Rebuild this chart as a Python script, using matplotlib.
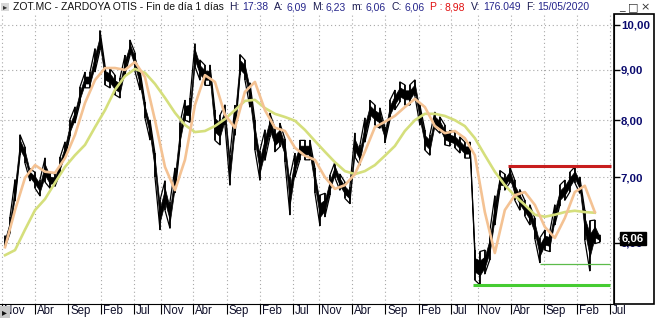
import matplotlib
matplotlib.use('Agg')
import matplotlib.pyplot as plt
import matplotlib.dates as mdates
import matplotlib.transforms as mtransforms
from matplotlib.patches import Rectangle
from matplotlib.ticker import NullLocator, FixedLocator
import pandas as pd

# --- datos (ZOT.MC, cierres aprox. cada ~18 dias) ---
cierres = [6.02, 6.26, 6.79, 7.55, 7.37, 7.04, 6.95, 6.83, 7.12, 6.95,
           6.95, 7.20, 7.46, 7.86, 8.10, 8.49, 8.79, 8.79, 9.21, 9.65,
           8.89, 8.83, 8.69, 8.63, 9.11, 9.48, 9.17, 8.79, 8.19, 7.82,
           7.20, 6.41, 6.71, 6.41, 6.95, 7.73, 8.19, 8.19, 9.32, 9.00,
           8.89, 8.89, 7.91, 7.82, 8.10, 7.12, 8.00, 9.11, 9.00, 8.49,
           7.73, 7.20, 7.55, 7.91, 7.64, 7.73, 7.46, 6.71, 7.20, 7.46,
           7.46, 7.46, 6.95, 6.48, 6.56, 6.87, 7.12, 6.92, 6.79, 6.71,
           7.55, 7.37, 7.82, 8.19, 8.10, 8.04, 7.73, 8.19, 8.39, 8.55,
           8.49, 8.49, 8.63, 8.10, 7.64, 7.55, 8.00, 7.91, 7.73, 7.67,
           7.64, 7.55, 7.46, 7.46, 5.70, 5.66, 5.74, 5.97, 6.48, 6.95,
           6.92, 7.04, 6.79, 6.64, 6.51, 6.41, 6.21, 5.90, 6.04, 6.02,
           6.41, 6.71, 6.79, 6.92, 7.04, 6.87, 6.26, 5.97, 6.16, 6.06]

# medio rango maximo-minimo alrededor del cierre
rango = [0.08, 0.12, 0.17, 0.18, 0.14, 0.10, 0.13, 0.13, 0.20, 0.13,
         0.10, 0.13, 0.14, 0.15, 0.15, 0.16, 0.16, 0.16, 0.25, 0.22,
         0.20, 0.20, 0.20, 0.20, 0.20, 0.17, 0.20, 0.20, 0.15, 0.18,
         0.20, 0.22, 0.23, 0.20, 0.20, 0.22, 0.19, 0.23, 0.25, 0.21,
         0.21, 0.21, 0.28, 0.27, 0.19, 0.25, 0.28, 0.22, 0.21, 0.24,
         0.27, 0.25, 0.27, 0.22, 0.21, 0.21, 0.20, 0.30, 0.20, 0.17,
         0.17, 0.17, 0.20, 0.23, 0.18, 0.16, 0.13, 0.13, 0.13, 0.13,
         0.21, 0.17, 0.22, 0.19, 0.19, 0.19, 0.14, 0.19, 0.19, 0.20,
         0.20, 0.20, 0.16, 0.19, 0.18, 0.18, 0.15, 0.15, 0.18, 0.14,
         0.14, 0.14, 0.14, 0.14, 0.20, 0.22, 0.16, 0.20, 0.22, 0.16,
         0.13, 0.13, 0.16, 0.16, 0.12, 0.15, 0.15, 0.17, 0.14, 0.14,
         0.15, 0.16, 0.16, 0.16, 0.13, 0.13, 0.22, 0.35, 0.17, 0.05]

media_corta = [5.94, 6.48, 6.99, 7.20, 7.09, 7.07, 7.32, 7.73, 8.33, 8.79,
               9.04, 9.04, 9.00, 9.17, 8.85, 8.00, 7.17, 6.79, 7.29, 8.29,
               8.89, 8.75, 8.10, 7.86, 8.55, 8.75, 8.19, 7.86, 7.80, 7.50,
               7.36, 7.29, 7.00, 6.81, 6.87, 7.05, 7.43, 7.87, 7.97, 8.08,
               8.25, 8.41, 8.25, 7.89, 7.76, 7.80, 7.67, 7.37, 6.45, 5.86,
               6.48, 6.71, 6.76, 6.56, 6.23, 6.07, 6.36, 6.76, 6.86, 6.45]

media_larga = [5.83, 5.90, 6.19, 6.48, 6.65, 6.91, 7.17, 7.37, 7.55, 7.87,
               8.19, 8.59, 8.87, 9.02, 8.94, 8.71, 8.43, 8.14, 7.91, 7.78,
               7.80, 7.89, 8.02, 8.19, 8.37, 8.39, 8.23, 8.12, 8.06, 7.99,
               7.82, 7.62, 7.43, 7.25, 7.10, 7.05, 7.10, 7.20, 7.36, 7.53,
               7.80, 8.00, 8.12, 8.12, 8.08, 8.00, 7.89, 7.67, 7.37, 7.09,
               6.87, 6.70, 6.56, 6.41, 6.38, 6.41, 6.45, 6.47, 6.45, 6.44]

# lineas horizontales: (precio, desde, hasta)
resistencia = (7.19, '2019-03-18', '2020-07-05')
soporte = (5.44, '2018-10-09', '2020-07-01')
soporte2 = (5.71, '2019-08-14', '2020-07-01')

meses_ticks = ['2012-11', '2013-04', '2013-09', '2014-02', '2014-07',
               '2014-11', '2015-04', '2015-09', '2016-02', '2016-07',
               '2016-11', '2017-04', '2017-09', '2018-02', '2018-07',
               '2018-11', '2019-04', '2019-09', '2020-02', '2020-07']
nombres_mes = {1: 'Ene', 2: 'Feb', 3: 'Mar', 4: 'Abr', 5: 'May', 6: 'Jun',
               7: 'Jul', 8: 'Ago', 9: 'Sep', 10: 'Oct', 11: 'Nov', 12: 'Dic'}
niveles_y = [6, 7, 8, 9, 10]

cabecera = [('ZOT.MC - ZARDOYA OTIS - Fin de día 1 días', 'k'),
            ('H:', 'L'), ('17:38', 'V'), ('A:', 'L'), ('6,09', 'V'),
            ('M:', 'L'), ('6,23', 'V'), ('m:', 'L'), ('6,06', 'V'),
            ('C:', 'L'), ('6,06', 'V'), ('P :', 'R'), ('8,98', 'R'),
            ('V:', 'L'), ('176.049', 'V'), ('F:', 'L'), ('15/05/2020', 'V')]
ultimo = 6.06

fechas = pd.date_range('2012-11-15', '2020-05-15', periods=len(cierres))
fechas_media = fechas[::2]

W, H = 655, 321
fig = plt.figure(figsize=(W / 100, H / 100), dpi=100)
fig.patch.set_facecolor('white')
ax = fig.add_axes([0, (H - 304) / H, 614 / W, 290 / H])

# escala x: nov-2012 en x=2px, jul-2020 en x=610px
d0 = mdates.date2num(pd.Timestamp('2012-11-01'))
d1 = mdates.date2num(pd.Timestamp('2020-07-01'))
dpp = (d1 - d0) / 608.0
ax.set_xlim(d0 - 2 * dpp, d1 + 4 * dpp)
ax.set_yscale('log')
ax.set_ylim(5.20, 10.26)

gris = '#a8a8a8'
ticks_x = [pd.Timestamp(m + '-01') for m in meses_ticks]
for t in ticks_x:
    ax.axvline(t, color=gris, lw=0.8, ls=(0, (1, 2.5)), zorder=0)
for n in niveles_y:
    ax.axhline(n, color=gris, lw=0.8, ls=(0, (1, 2.5)), zorder=0)

# barras: nucleo relleno + zigzag maximo/minimo
altos = [c + r for c, r in zip(cierres, rango)]
bajos = [c - r for c, r in zip(cierres, rango)]
ax.fill_between(fechas, [c - 0.45 * r for c, r in zip(cierres, rango)],
                [c + 0.45 * r for c, r in zip(cierres, rango)],
                color='black', lw=0.5, zorder=2)
zx, zy = [], []
for i, f in enumerate(fechas):
    par = (altos[i], bajos[i]) if i % 2 == 0 else (bajos[i], altos[i])
    zx += [f, f]
    zy += list(par)
ax.plot(zx, zy, color='black', lw=0.9, zorder=2)
ax.vlines(fechas, bajos, altos, color='black', lw=1.2, zorder=2)

ax.plot(fechas_media, media_larga, color='#d5df7c', lw=1.9, zorder=3)
ax.plot(fechas_media, media_corta, color='#f4c293', lw=1.9, zorder=4)

for (p, a, b), col, lw in [(resistencia, '#c81e1e', 2.2),
                           (soporte, '#46cc32', 2.2),
                           (soporte2, '#5cbb4a', 0.9)]:
    ax.plot([pd.Timestamp(a), pd.Timestamp(b)], [p, p], color=col, lw=lw,
            solid_capstyle='butt', zorder=5)

# ejes
for s in ['left', 'top']:
    ax.spines[s].set_visible(False)
ax.spines['bottom'].set_color('black')
ax.spines['right'].set_color('black')
ax.yaxis.tick_right()
ax.yaxis.set_minor_locator(NullLocator())
ax.yaxis.set_major_locator(FixedLocator(niveles_y))
ax.set_yticklabels(['%d,00' % n for n in niveles_y])
ax.tick_params(axis='y', direction='out', length=4, width=1, pad=1,
               labelcolor='#0a0a6e')
for lbl in ax.get_yticklabels():
    lbl.set_fontfamily('Liberation Sans')
    lbl.set_fontweight('bold')
    lbl.set_fontsize(8.2)

ax.xaxis.set_major_locator(FixedLocator(mdates.date2num(ticks_x)))
ax.xaxis.set_minor_locator(NullLocator())
ax.set_xticklabels([nombres_mes[t.month] for t in ticks_x])
ax.tick_params(axis='x', direction='out', length=7, width=0.8, pad=-6,
               labelcolor='#10102a')
despl = mtransforms.ScaledTranslation(2 / 100, 0, fig.dpi_scale_trans)
for lbl in ax.get_xticklabels():
    lbl.set_fontfamily('Liberation Sans')
    lbl.set_fontsize(8.3)
    lbl.set_horizontalalignment('left')
    lbl.set_verticalalignment('top')
    lbl.set_transform(lbl.get_transform() + despl)

# caja del eje de precios
fig.add_artist(Rectangle((614 / W, (H - 304) / H), 40 / W, 290 / H,
                         transform=fig.transFigure, fill=False,
                         ec='black', lw=1.2))

# etiqueta del ultimo precio
ax.text(1.013, ultimo, '6,06', transform=ax.get_yaxis_transform(),
        ha='left', va='center', color='white', fontsize=8.2,
        fontweight='bold', family='Liberation Sans', zorder=10,
        bbox=dict(facecolor='black', edgecolor='black', pad=1.2),
        clip_on=False)
ax.text(1.004, ultimo, '‹', transform=ax.get_yaxis_transform(),
        ha='left', va='center', color='#555555', fontsize=7, clip_on=False)

# cabecera
fig.canvas.draw()
rend = fig.canvas.get_renderer()
colores = {'k': '#111111', 'L': '#1a1a50', 'V': '#26268c', 'R': '#e01010'}
x = 13
for i, (txt, c) in enumerate(cabecera):
    t = fig.text(x / W, 1 - 7 / H, txt, color=colores[c], fontsize=7.5,
                 family='Liberation Sans', ha='left', va='center')
    bb = t.get_window_extent(renderer=rend)
    x += bb.width + (2.5 if c in 'LR' and txt.endswith(':') else 5.5)

# iconos
fig.add_artist(Rectangle((1 / W, 1 - 11 / H), 8 / W, 8 / H,
                         transform=fig.transFigure, fc='#d8d8d8', ec='none'))
fig.text(5 / W, 1 - 7 / H, '▸', fontsize=6, ha='center', va='center',
         color='#333333')
fig.add_artist(Rectangle((0, (H - 318) / H), 10 / W, 12 / H,
                         transform=fig.transFigure, fc='#c8c8c8', ec='none'))
fig.text(4 / W, (H - 312) / H, '▸', fontsize=7, ha='center', va='center',
         color='#111111')
for xb, s in [(622, '_'), (633, '□'), (645, '×')]:
    fig.text(xb / W, 1 - 7 / H, s, fontsize=8, ha='center', va='center',
             color='#333333', family='DejaVu Sans')

fig.savefig('out.png', dpi=100, facecolor='white')
